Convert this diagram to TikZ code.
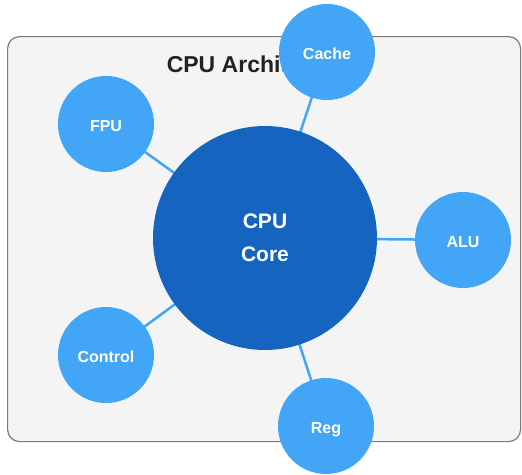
\documentclass[tikz,border=0pt]{standalone}
\usepackage{fontspec}
\setmainfont{Liberation Sans}
\pgfdeclarelayer{back}
\pgfdeclarelayer{edges}
\pgfsetlayers{back,edges,main}
\definecolor{corebl}{HTML}{1565C0}
\definecolor{satbl}{HTML}{42A5F5}
\definecolor{panelfill}{HTML}{F4F4F4}
\definecolor{panelline}{HTML}{7A7A7A}
\definecolor{titlecol}{HTML}{222222}
\tikzset{
  corenode/.style={circle, fill=corebl, draw=none, minimum size=224pt, inner sep=0pt,
    text=white, font=\fontsize{21}{33}\selectfont\bfseries, align=center},
  satnode/.style={circle, fill=satbl, draw=none, minimum size=96pt, inner sep=0pt,
    text=white, font=\fontsize{16}{19}\selectfont\bfseries, text height=14.5pt, text depth=0pt},
  link/.style={draw=satbl, line width=2.5pt},
  panel/.style={fill=panelfill, draw=panelline, line width=1.2pt, rounded corners=12pt},
  titletext/.style={text=titlecol, font=\fontsize{23}{27}\selectfont\bfseries}
}
\begin{document}
\begin{tikzpicture}[x=1pt, y=-1pt]
\useasboundingbox (0,0) rectangle (522,474);
\begin{pgfonlayer}{back}
  \node[panel, minimum width=513pt, minimum height=405pt, inner sep=0pt, anchor=north west] (panel) at (7,36) {};
  \node[titletext] (title) at (262,64.5) {CPU Architecture};
\end{pgfonlayer}
\node[corenode] (core) at (265,238) {CPU\\Core};
\node[satnode] (cache) at (327,52) {Cache};
\node[satnode] (fpu) at (106,124) {FPU};
\node[satnode] (alu) at (463,240) {ALU};
\node[satnode] (reg) at (326,426) {Reg};
\node[satnode] (control) at (106,355) {Control};
\begin{pgfonlayer}{edges}
  \draw[link] (core.center) -- (cache.center);
  \draw[link] (core.center) -- (fpu.center);
  \draw[link] (core.center) -- (alu.center);
  \draw[link] (core.center) -- (reg.center);
  \draw[link] (core.center) -- (control.center);
\end{pgfonlayer}
\end{tikzpicture}
\end{document}
